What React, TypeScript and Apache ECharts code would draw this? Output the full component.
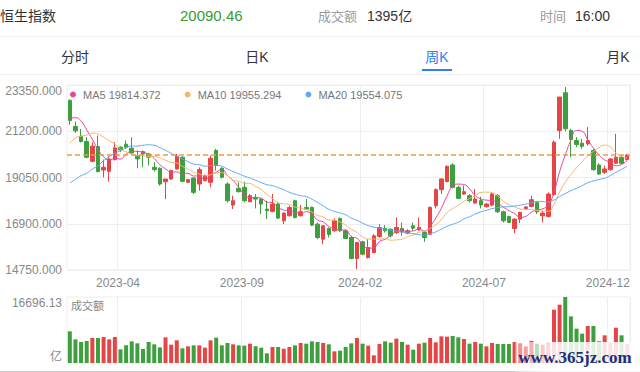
import React, { useEffect, useRef } from 'react';
import * as echarts from 'echarts';

const FONT = '"Liberation Sans", "Noto Sans CJK SC", sans-serif';
const RED = '#e64545';
const GREEN = '#3d9f3d';

// Week-ending dates (weekly K line)
const DATES = [
  '2023-02-03','2023-02-10','2023-02-17','2023-02-24','2023-03-03','2023-03-10','2023-03-17','2023-03-24','2023-03-31','2023-04-06',
  '2023-04-14','2023-04-21','2023-04-28','2023-05-05','2023-05-12','2023-05-19','2023-05-26','2023-06-02','2023-06-09','2023-06-16',
  '2023-06-23','2023-06-30','2023-07-07','2023-07-14','2023-07-21','2023-07-28','2023-08-04','2023-08-11','2023-08-18','2023-08-25',
  '2023-09-01','2023-09-08','2023-09-15','2023-09-22','2023-09-28','2023-10-06','2023-10-13','2023-10-20','2023-10-27','2023-11-03',
  '2023-11-10','2023-11-17','2023-11-24','2023-12-01','2023-12-08','2023-12-15','2023-12-22','2023-12-29','2024-01-05','2024-01-12',
  '2024-01-19','2024-01-26','2024-02-02','2024-02-09','2024-02-16','2024-02-23','2024-03-01','2024-03-08','2024-03-15','2024-03-22',
  '2024-03-28','2024-04-05','2024-04-12','2024-04-19','2024-04-26','2024-05-03','2024-05-10','2024-05-17','2024-05-24','2024-05-31',
  '2024-06-07','2024-06-14','2024-06-21','2024-06-28','2024-07-05','2024-07-12','2024-07-19','2024-07-26','2024-08-02','2024-08-09',
  '2024-08-16','2024-08-23','2024-08-30','2024-09-06','2024-09-13','2024-09-20','2024-09-27','2024-10-04','2024-10-11','2024-10-18',
  '2024-10-25','2024-11-01','2024-11-08','2024-11-15','2024-11-22','2024-11-29','2024-12-06','2024-12-13','2024-12-20','2024-12-27',
];

// [open, close, low, high]
const CANDLES: number[][] = [
  [22635, 21702, 21500, 22680], [21420, 21220, 21127, 21655], [20971, 20722, 20680, 21310], [20722, 19990, 19945, 20925],
  [19805, 20505, 19760, 20690], [20489, 19323, 19290, 21000], [19400, 19525, 19060, 19883], [19338, 19913, 18856, 20038],
  [19882, 20427, 19836, 20690], [20458, 20333, 20225, 20505], [20598, 20458, 20380, 20769], [20411, 20194, 20147, 20925],
  [20070, 19914, 19478, 20303], [20256, 20147, 19525, 20303], [20147, 19991, 19603, 20194], [19525, 19416, 19323, 19758],
  [19478, 18747, 18670, 19525], [18856, 18980, 18048, 18980], [18980, 19370, 18950, 19416], [19447, 20038, 19416, 20147],
  [19992, 18873, 18826, 20038], [18826, 18950, 18794, 18980], [19028, 18359, 18281, 19059], [18748, 19416, 18437, 19525],
  [18904, 19137, 18870, 19200], [18826, 19945, 18592, 20070], [20303, 19603, 19370, 20380], [19478, 19059, 19000, 19525],
  [18748, 17971, 17893, 18825], [17769, 17971, 17582, 18204], [18546, 18390, 18359, 18825], [18592, 17971, 17893, 18856],
  [17924, 18204, 17893, 18281], [18126, 18049, 17613, 18281], [18049, 17815, 17349, 18081], [17582, 17504, 17116, 17971],
  [17473, 17815, 17427, 18281], [17815, 17162, 17116, 17893], [17038, 17396, 16882, 17427], [17272, 17660, 17240, 17738],
  [17971, 17194, 17147, 18018], [17272, 17458, 17240, 17769], [17660, 17582, 17560, 18049], [17660, 16836, 16800, 17700],
  [16882, 16260, 16183, 16960], [16183, 16805, 15950, 16836], [16680, 16400, 16260, 16730], [16571, 17038, 16525, 17147],
  [17147, 16571, 16525, 17194], [16571, 16214, 16183, 16650], [16260, 15282, 15250, 16338], [15282, 16027, 14784, 16059],
  [16059, 15484, 15437, 16105], [15328, 15794, 15282, 16183], [15562, 16338, 15530, 16416], [16307, 16727, 16260, 16882],
  [16680, 16571, 16494, 16836], [16649, 16338, 16260, 16680], [16494, 16727, 16416, 17194], [16680, 16525, 16338, 16960],
  [16463, 16571, 16416, 16650], [16805, 16696, 16571, 16960], [16618, 16727, 16571, 17194], [16494, 16260, 16059, 16571],
  [16416, 17660, 16370, 17707], [17738, 18484, 17613, 18546], [18484, 18981, 18281, 19012], [18857, 19572, 18826, 19603],
  [19634, 18592, 18546, 19712], [18592, 18080, 18049, 18670], [18282, 18390, 18250, 18670], [18204, 17971, 17893, 18281],
  [17862, 18049, 17831, 18514], [17971, 17769, 17613, 18157], [17691, 17815, 17660, 17862], [17769, 18281, 17707, 18328],
  [18204, 17458, 17396, 18281], [17458, 17038, 16960, 17504], [17240, 16960, 16929, 17272], [16680, 17116, 16463, 17147],
  [17116, 17427, 16929, 17458], [17610, 17680, 17560, 17720], [17707, 18018, 17660, 18204], [17893, 17458, 17349, 17924],
  [17272, 17396, 16960, 17504], [17240, 18282, 17194, 18359], [18258, 20692, 18200, 20769], [21236, 22790, 20847, 22790],
  [22992, 21313, 21200, 23257], [21236, 20816, 19992, 21313], [20769, 20583, 20458, 20925], [20645, 20505, 20381, 20847],
  [20614, 20769, 20536, 21391], [20303, 19416, 19370, 20380], [19634, 19214, 19170, 19712], [19292, 19447, 19214, 19603],
  [19416, 19914, 19370, 19945], [19712, 19992, 19680, 21080], [19992, 19712, 19680, 20070], [19883, 20090.46, 19836, 20147],
];

// Weekly closes before the first visible week (needed for the moving averages)
const PRIOR_CLOSES = [17933, 17223, 17740, 16588, 16211, 14863, 16161, 17326, 17993, 17573,
  18675, 19901, 19450, 19593, 19781, 20991, 21514, 22045, 22689];

// Turnover (亿)
const VOLUMES = [
  8009, 5985, 5311, 5564, 6323, 6323, 6575, 5985, 6575, 3456,
  4468, 5480, 4974, 3541, 5311, 4721, 3962, 6491, 4637, 5732,
  3709, 4215, 4468, 4468, 3878, 5732, 6407, 4468, 5058, 4721,
  4468, 4384, 4889, 4215, 3878, 2445, 4046, 4046, 3625, 4046,
  4468, 5058, 4889, 5480, 5311, 5058, 4721, 2950, 3119, 4046,
  4974, 6323, 4889, 4384, 1939, 4805, 5480, 5142, 6154, 5311,
  4637, 3372, 4889, 5142, 6323, 5227, 6744, 6660, 6828, 6491,
  6070, 4889, 5311, 4889, 4215, 5058, 4805, 4805, 4805, 5311,
  5000, 4200, 5600, 4900, 4600, 5200, 13488, 14753, 16696.13, 11802,
  8683, 7418, 9357, 9357, 5500, 6997, 5200, 8936, 6997, 4800,
];

const Y_TICKS = [14750, 16900, 19050, 21200, 23350];
const VOL_MAX = 16696.13;
const LAST_CLOSE = 20090.46;
const LABEL_INDEX = [9, 31, 52, 74, 96];
const MA_NAMES = ['MA5', 'MA10', 'MA20'];
const MA_PERIODS = [5, 10, 20];
const MA_COLORS = ['#e6479a', '#f5b56c', '#5ea8f7'];
const MA_LEGEND: Record<string, string> = { MA5: '19814.372', MA10: '19955.294', MA20: '19554.075' };

const HEADER = { name: '恒生指数', price: '20090.46', volLabel: '成交额', vol: '1395亿', timeLabel: '时间', time: '16:00' };
const TABS = ['分时', '日K', '周K', '月K'];
const TAB_X = [75, 257, 437, 618];
const ACTIVE_TAB = 2;

export default function App() {
  const ref = useRef<HTMLDivElement>(null);
  useEffect(() => {
    if (!ref.current) return;
    const chart = echarts.init(ref.current, null, { renderer: 'svg' });
    const closes = CANDLES.map((c) => c[1]);
    const all = [...PRIOR_CLOSES, ...closes];
    const ma = (n: number) =>
      closes.map((_, i) => {
        const end = PRIOR_CLOSES.length + i + 1;
        const s = all.slice(end - n, end);
        return +(s.reduce((a, b) => a + b, 0) / n).toFixed(2);
      });
    const volData = VOLUMES.map((v, i) => ({
      value: v,
      itemStyle: { color: CANDLES[i][1] >= CANDLES[i][0] ? RED : GREEN },
    }));
    const showIdx = (i: number) => LABEL_INDEX.includes(i);

    const graphics: any[] = [
      { type: 'text', left: 0, top: 9, style: { text: HEADER.name, fontSize: 14, fill: '#333', fontFamily: FONT } },
      { type: 'text', left: 180, top: 8, style: { text: HEADER.price, fontSize: 15, fill: '#3c9a2f', fontFamily: FONT } },
      { type: 'text', left: 318, top: 10, style: { text: HEADER.volLabel, fontSize: 13, fill: '#999', fontFamily: FONT } },
      { type: 'text', left: 367, top: 9, style: { text: HEADER.vol, fontSize: 14, fill: '#333', fontFamily: FONT } },
      { type: 'text', left: 540, top: 10, style: { text: HEADER.timeLabel, fontSize: 13, fill: '#999', fontFamily: FONT } },
      { type: 'text', left: 575, top: 9, style: { text: HEADER.time, fontSize: 14, fill: '#333', fontFamily: FONT } },
      { type: 'line', shape: { x1: 0, y1: 36.5, x2: 640, y2: 36.5 }, style: { stroke: '#eeeeee', lineWidth: 1 } },
      { type: 'line', shape: { x1: 0, y1: 74.5, x2: 640, y2: 74.5 }, style: { stroke: '#eeeeee', lineWidth: 1 } },
      { type: 'rect', shape: { x: TAB_X[ACTIVE_TAB] - 15, y: 69, width: 30, height: 2 }, style: { fill: '#2f7ef5' } },
      { type: 'text', x: 71, y: 306, style: { text: '成交额', fontSize: 11, fill: '#888', fontFamily: FONT, verticalAlign: 'middle' } },
      { type: 'line', shape: { x1: 0, y1: 371.5, x2: 640, y2: 371.5 }, style: { stroke: '#cccccc', lineWidth: 1 } },
      {
        type: 'rect', shape: { x: 515, y: 342, width: 125, height: 30 }, z: 100,
        style: { fill: new echarts.graphic.LinearGradient(0, 0, 1, 0, [
          { offset: 0, color: 'rgba(255,255,255,0.35)' },
          { offset: 0.3, color: 'rgba(255,255,255,0.85)' },
          { offset: 1, color: 'rgba(255,255,255,0.85)' },
        ]) },
      },
      { type: 'text', x: 575, y: 357, z: 101, style: { text: 'www.365jz.com', fontSize: 17, fontWeight: 'bold', fill: '#1d2f7a', fontFamily: '"Liberation Serif", serif', align: 'center', verticalAlign: 'middle' } },
    ];
    TABS.forEach((t, i) => {
      graphics.push({ type: 'text', x: TAB_X[i], y: 57, style: { text: t, fontSize: 14, fill: i === ACTIVE_TAB ? '#2f7ef5' : '#333', fontFamily: FONT, align: 'center', verticalAlign: 'middle' } });
    });

    const xCommon = {
      type: 'category',
      data: DATES,
      boundaryGap: true,
      axisLine: { show: false },
      axisTick: { show: false },
      splitLine: { show: true, interval: (i: number) => showIdx(i), lineStyle: { color: '#eeeeee', width: 1 } },
    };

    chart.setOption({
      animation: false,
      backgroundColor: '#fff',
      textStyle: { fontFamily: FONT },
      legend: {
        left: 65, top: 84, icon: 'circle', itemWidth: 10, itemHeight: 6, itemGap: 24,
        data: MA_NAMES,
        formatter: (n: string) => `${n} ${MA_LEGEND[n]}`,
        textStyle: { color: '#777', fontSize: 11, fontFamily: FONT },
      },
      grid: [
        { left: 67, right: 10, top: 85, height: 185, show: true, borderColor: '#eeeeee', borderWidth: 1 },
        { left: 67, right: 10, top: 297, height: 66, show: true, borderColor: '#eeeeee', borderWidth: 1 },
      ],
      xAxis: [
        { ...xCommon, gridIndex: 0,
          axisLabel: { interval: (i: number) => showIdx(i), formatter: (v: string) => v.slice(0, 7), color: '#888', fontSize: 12, margin: 7, padding: [0, 5, 0, 0], fontFamily: FONT } },
        { ...xCommon, gridIndex: 1, axisLabel: { show: false } },
      ],
      yAxis: [
        { type: 'value', gridIndex: 0, min: 14750, max: 23350, scale: true,
          axisLine: { show: false },
          axisTick: { show: false, customValues: Y_TICKS },
          axisLabel: { customValues: Y_TICKS, formatter: (v: number) => v.toFixed(3), color: '#888', fontSize: 12, margin: 5, verticalAlignMaxLabel: 'top', fontFamily: FONT },
          splitLine: { show: true, lineStyle: { color: '#eeeeee' } } },
        { type: 'value', gridIndex: 1, min: 0, max: VOL_MAX, interval: VOL_MAX,
          axisLine: { show: false }, axisTick: { show: false },
          axisLabel: { formatter: (v: number) => (v === 0 ? '亿' : v.toFixed(2)), color: '#888', fontSize: 12, margin: 5, verticalAlignMaxLabel: 'top', verticalAlignMinLabel: 'bottom', fontFamily: FONT },
          splitLine: { show: false } },
      ],
      series: [
        {
          type: 'candlestick', name: 'K', xAxisIndex: 0, yAxisIndex: 0, data: CANDLES, barWidth: 4,
          itemStyle: { color: RED, color0: GREEN, borderColor: RED, borderColor0: GREEN, borderWidth: 1 },
          markLine: {
            symbol: 'none', silent: true, label: { show: false },
            lineStyle: { color: '#f39a3d', type: [5, 3], width: 1.5 },
            data: [{ yAxis: LAST_CLOSE }],
          },
        },
        ...MA_NAMES.map((name, k) => ({
          type: 'line', name, xAxisIndex: 0, yAxisIndex: 0, data: ma(MA_PERIODS[k]),
          smooth: true, showSymbol: false, symbol: 'none', color: MA_COLORS[k],
          lineStyle: { width: 1, color: MA_COLORS[k] },
        })),
        { type: 'bar', name: 'VOL', xAxisIndex: 1, yAxisIndex: 1, data: volData, barWidth: 4 },
      ],
      graphic: graphics,
    });
    return () => chart.dispose();
  }, []);
  return <div ref={ref} style={{ position: 'fixed', left: 0, top: 0, width: 640, height: 372, background: '#fff' }} />;
}
